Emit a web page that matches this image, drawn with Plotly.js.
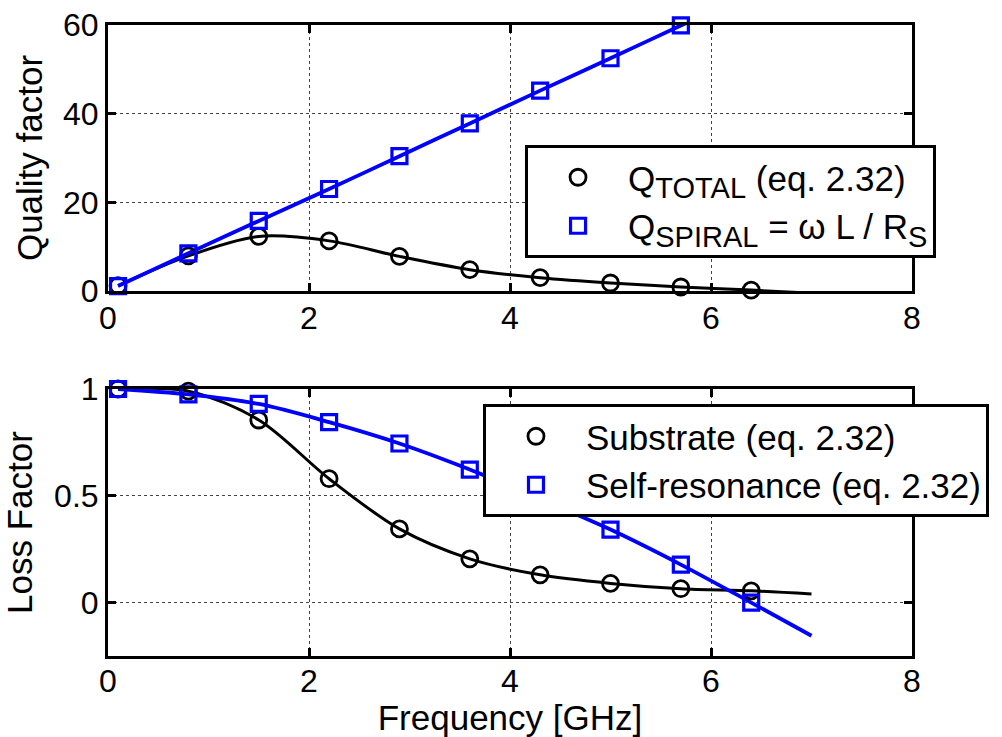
<!DOCTYPE html>
<html><head><meta charset="utf-8">
<script src="https://cdn.plot.ly/plotly-3.0.1.min.js"></script>
<style>html,body{margin:0;padding:0;background:#fff}</style>
</head><body><div id="chart" style="width:1002px;height:737px"></div>
<script>
// Marker sample frequencies (GHz)
const freq = [0.1, 0.8, 1.5, 2.2, 2.9, 3.6, 4.3, 5.0, 5.7, 6.4];
// Curve frequencies (GHz) - curves continue to 7 GHz
const lineFreq = [0.1, 0.8, 1.5, 2.2, 2.9, 3.6, 4.3, 5.0, 5.7, 6.4, 7.0];

// Top panel: quality factor
const qTotal = [1.2, 7.9, 12.3, 11.3, 7.8, 4.8, 3.0, 1.8, 0.9, 0.2];
const qTotalLine = [1.2, 7.9, 12.3, 11.3, 7.8, 4.8, 3.0, 1.8, 0.9, 0.2, -0.5];
const qSpiral = [1.1, 8.5, 15.8, 23.0, 30.4, 37.8, 45.2, 52.5, 59.9];
const qSpiralLine = [1.1, 8.5, 15.8, 23.0, 30.4, 37.8, 45.2, 52.5, 59.9, 67.3, 74.5];

// Bottom panel: loss factors
const substrate = [1.0, 0.99, 0.855, 0.58, 0.345, 0.205, 0.13, 0.09, 0.065, 0.055];
const substrateLine = [1.0, 0.99, 0.855, 0.58, 0.345, 0.205, 0.13, 0.09, 0.065, 0.055, 0.04];
const selfRes = [1.0, 0.975, 0.93, 0.845, 0.745, 0.623, 0.485, 0.342, 0.178, 0.0];
const selfResLine = [1.0, 0.975, 0.93, 0.845, 0.745, 0.623, 0.485, 0.342, 0.178, 0.0, -0.155];

const legendTop = [
  'Q<sub><span style="font-size:29px">TOTAL</span></sub> (eq. 2.32)',
  'Q<sub><span style="font-size:29px">SPIRAL</span></sub> = ω L / R<sub><span style="font-size:29px">S</span></sub>'
];
const legendBottom = ['Substrate (eq. 2.32)', 'Self-resonance (eq. 2.32)'];

const FONT = 'Liberation Sans, Arial, sans-serif';
const BLUE = '#0000ff';
const BLACK = '#000000';

function lineTrace(x, y, color, width, xa, ya) {
  return {x: x, y: y, type: 'scatter', mode: 'lines', xaxis: xa, yaxis: ya,
    line: {color: color, width: width, shape: 'spline', smoothing: 0.9},
    showlegend: false, hoverinfo: 'skip'};
}
function markTrace(x, y, name, symbol, color, size, lw, xa, ya, leg) {
  return {x: x, y: y, type: 'scatter', mode: 'markers', name: name, xaxis: xa, yaxis: ya,
    legend: leg, cliponaxis: false,
    marker: {symbol: symbol, color: color, size: size, line: {color: color, width: lw}}};
}

const data = [
  lineTrace(lineFreq, qTotalLine, BLACK, 3, 'x', 'y'),
  lineTrace(lineFreq, qSpiralLine, BLUE, 3.8, 'x', 'y'),
  markTrace(freq, qTotal, legendTop[0], 'circle-open', BLACK, 16, 2.8, 'x', 'y', 'legend'),
  markTrace(freq.slice(0, qSpiral.length), qSpiral, legendTop[1], 'square-open', BLUE, 15, 3.2, 'x', 'y', 'legend'),
  lineTrace(lineFreq, substrateLine, BLACK, 3, 'x2', 'y2'),
  lineTrace(lineFreq, selfResLine, BLUE, 3.8, 'x2', 'y2'),
  markTrace(freq, substrate, legendBottom[0], 'circle-open', BLACK, 16, 2.8, 'x2', 'y2', 'legend2'),
  markTrace(freq, selfRes, legendBottom[1], 'square-open', BLUE, 15, 3.2, 'x2', 'y2', 'legend2')
];

const axisCommon = {
  showline: true, linecolor: BLACK, linewidth: 3, mirror: 'ticks',
  ticks: 'inside', ticklen: 8, tickwidth: 3, tickcolor: BLACK,
  showgrid: true, gridcolor: '#444', gridwidth: 1, griddash: 'dot',
  zeroline: false, tickfont: {family: FONT, size: 32, color: BLACK},
  fixedrange: true
};

const legendCommon = {
  xanchor: 'left', yanchor: 'top', bgcolor: '#ffffff',
  bordercolor: BLACK, borderwidth: 3, itemwidth: 90,
  font: {family: FONT, size: 35, color: BLACK}, traceorder: 'normal'
};

const layout = {
  width: 1002, height: 737,
  margin: {l: 108, r: 90, t: 25, b: 81, autoexpand: false},
  paper_bgcolor: '#ffffff', plot_bgcolor: '#ffffff',
  font: {family: FONT, color: BLACK},
  xaxis: Object.assign({}, axisCommon, {domain: [0, 1], anchor: 'y', range: [0, 8], dtick: 2, tick0: 0,
    ticklabelstandoff: -3}),
  yaxis: Object.assign({}, axisCommon, {domain: [0.5785, 1], anchor: 'x', range: [0, 60], dtick: 20, tick0: 0,
    title: {text: 'Quality factor', font: {family: FONT, size: 35, color: BLACK}, standoff: 10}}),
  xaxis2: Object.assign({}, axisCommon, {domain: [0, 1], anchor: 'y2', range: [0, 8], dtick: 2, tick0: 0,
    ticklabelstandoff: -5,
    title: {text: 'Frequency [GHz]', font: {family: FONT, size: 35, color: BLACK}, standoff: 14}}),
  yaxis2: Object.assign({}, axisCommon, {domain: [0, 0.4231], anchor: 'x2', range: [-0.25, 1],
    tickvals: [0, 0.5, 1], ticktext: ['0', '0.5', '1'],
    title: {text: 'Loss Factor', font: {family: FONT, size: 35, color: BLACK}, standoff: 12}}),
  legend: Object.assign({}, legendCommon, {x: 0.5187, y: 0.8098}),
  legend2: Object.assign({}, legendCommon, {x: 0.4664, y: 0.3994}),
  showlegend: true
};

Plotly.newPlot('chart', data, layout, {displayModeBar: false, staticPlot: true});
</script></body></html>
